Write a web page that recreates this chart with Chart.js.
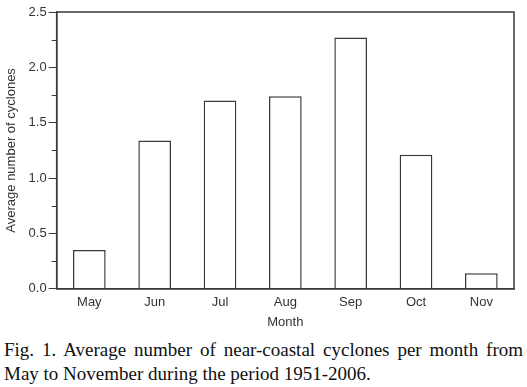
<!DOCTYPE html>
<html><head><meta charset="utf-8">
<script src="https://cdn.jsdelivr.net/npm/chart.js@4/dist/chart.umd.min.js"></script>
<style>
html,body{margin:0;padding:0;background:#fff;width:527px;height:387px;overflow:hidden;}
#wrap{position:absolute;left:0;top:0;width:527px;height:330px;}
.cap{position:absolute;left:4px;width:519px;font-family:"Liberation Serif","Times New Roman",serif;font-size:19px;line-height:23.5px;color:#111;white-space:nowrap;}
#cap1{top:338px;text-align:justify;text-align-last:justify;}
#cap2{top:361.5px;text-align:left;}
</style></head>
<body>
<div id="wrap"><canvas id="c" width="527" height="330"></canvas></div>
<div class="cap" id="cap1">Fig. 1. Average number of near-coastal cyclones per month from</div>
<div class="cap" id="cap2">May to November during the period 1951-2006.</div>
<script>
const months = ["May","Jun","Jul","Aug","Sep","Oct","Nov"];
const avgCyclones = [0.35, 1.34, 1.70, 1.74, 2.27, 1.21, 0.14];
const yMajorTicks = [0, 0.5, 1.0, 1.5, 2.0, 2.5];
const yMinorTicks = [0.25, 0.75, 1.25, 1.75, 2.25];

const lineCol = '#3a3a3a';
const boxPlugin = {
  id: 'box',
  afterDraw(chart) {
    const a = chart.chartArea, ctx = chart.ctx, y = chart.scales.y;
    ctx.save();
    ctx.strokeStyle = lineCol;
    ctx.lineWidth = 1.5;
    ctx.strokeRect(a.left, a.top, a.right - a.left, a.bottom - a.top);
    ctx.lineWidth = 1;
    ctx.beginPath();
    yMinorTicks.forEach(v => {
      const p = Math.round(y.getPixelForValue(v)) + 0.5;
      ctx.moveTo(a.left - 5, p); ctx.lineTo(a.left, p);
    });
    ctx.stroke();
    ctx.restore();
  }
};

new Chart(document.getElementById('c'), {
  type: 'bar',
  data: {
    labels: months,
    datasets: [{
      data: avgCyclones,
      backgroundColor: '#ffffff',
      borderColor: lineCol,
      borderWidth: 1.5,
      categoryPercentage: 1,
      barPercentage: 0.5
    }]
  },
  options: {
    responsive: false,
    animation: false,
    layout: { padding: { left: 4, top: 12, right: 13, bottom: 0 } },
    plugins: { legend: { display: false }, tooltip: { enabled: false } },
    scales: {
      x: {
        grid: { display: false, drawTicks: false },
        border: { display: true, color: lineCol, width: 1.5 },
        ticks: { color: '#333', font: { family: 'Liberation Sans, Arial, sans-serif', size: 13 }, padding: 6 },
        title: { display: true, text: 'Month', color: '#333', font: { family: 'Liberation Sans, Arial, sans-serif', size: 13 }, padding: { top: -2, bottom: 0 } }
      },
      y: {
        min: 0, max: 2.5,
        afterBuildTicks(scale) { scale.ticks = yMajorTicks.map(v => ({ value: v })); },
        grid: { drawOnChartArea: false, drawTicks: true, tickLength: 8, color: lineCol, tickWidth: 1 },
        border: { display: true, color: lineCol, width: 1.5 },
        ticks: { color: '#333', font: { family: 'Liberation Sans, Arial, sans-serif', size: 13 }, padding: 2, callback: v => Number(v).toFixed(1) },
        title: { display: true, text: 'Average number of cyclones', color: '#333', font: { family: 'Liberation Sans, Arial, sans-serif', size: 13 }, padding: { top: 0, bottom: 7 } }
      }
    }
  },
  plugins: [boxPlugin]
});
</script>
</body></html>
